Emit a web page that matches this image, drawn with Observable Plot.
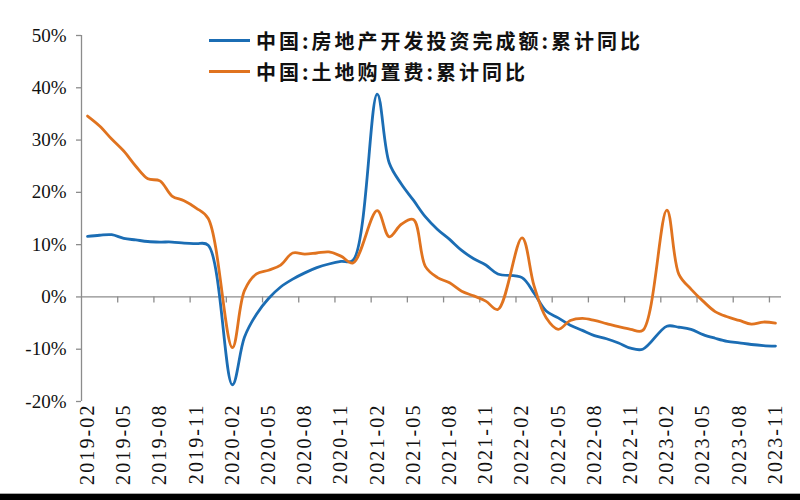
<!DOCTYPE html>
<html><head><meta charset="utf-8">
<script src="https://cdn.jsdelivr.net/npm/d3@7"></script>
<script src="https://cdn.jsdelivr.net/npm/@observablehq/plot@0.6"></script>
<style>
body{margin:0;background:#fff;width:800px;height:500px;overflow:hidden;position:relative}
#chart{position:absolute;left:0;top:0}
#legend{position:absolute;left:209px;top:25px}
.row{display:flex;align-items:center;height:31px;font-family:"Noto Sans CJK SC";font-weight:700;font-size:20px;letter-spacing:3px;color:#111;white-space:nowrap}
.sw{display:inline-block;width:41px;height:3px;margin-right:6px}
#bar{position:absolute;left:0;top:493px;width:800px;height:6px;background:#000;border-top:1px solid #aaa}
svg g[aria-label="x-axis tick label"] text{letter-spacing:2.1px}
</style></head>
<body>
<div id="chart"></div>
<div id="legend"></div>
<div id="bar"></div>
<script>
const months = [
 "2019-02","2019-03","2019-04","2019-05","2019-06","2019-07","2019-08","2019-09","2019-10","2019-11","2019-12",
 "2020-01","2020-02","2020-03","2020-04","2020-05","2020-06","2020-07","2020-08","2020-09","2020-10","2020-11","2020-12",
 "2021-01","2021-02","2021-03","2021-04","2021-05","2021-06","2021-07","2021-08","2021-09","2021-10","2021-11","2021-12",
 "2022-01","2022-02","2022-03","2022-04","2022-05","2022-06","2022-07","2022-08","2022-09","2022-10","2022-11","2022-12",
 "2023-01","2023-02","2023-03","2023-04","2023-05","2023-06","2023-07","2023-08","2023-09","2023-10","2023-11"
];
// 中国:房地产开发投资完成额:累计同比 (%), January not published
const investment = [
 11.6,11.8,11.9,11.2,10.9,10.6,10.5,10.5,10.3,10.2,9.9,
 null,-16.8,-7.7,-3.3,-0.3,1.9,3.4,4.6,5.6,6.3,6.8,7.0,
 null,38.8,25.6,21.6,18.5,15.3,12.9,11.0,8.9,7.3,6.1,4.4,
 null,3.7,0.7,-2.7,-4.0,-5.4,-6.4,-7.4,-8.0,-8.8,-9.8,-10.0,
 null,-5.6,-5.8,-6.2,-7.2,-7.9,-8.5,-8.8,-9.1,-9.3,-9.4
];
// 中国:土地购置费:累计同比 (%)
const landCost = [
 34.6,32.7,30.2,27.9,25.0,22.6,22.2,19.3,18.4,17.0,15.0,
 null,-9.7,1.2,4.4,5.1,6.1,8.4,8.2,8.4,8.6,7.8,6.5,
 null,16.5,11.5,13.9,14.8,5.8,3.7,2.7,1.1,0.2,-0.8,-2.4,
 null,11.3,2.1,-4.0,-6.2,-4.5,-4.1,-4.5,-5.1,-5.7,-6.2,-6.4,
 null,16.6,4.3,1.5,-0.8,-2.8,-3.8,-4.5,-5.2,-4.8,-5.0
];
const seriesNames = ["中国:房地产开发投资完成额:累计同比","中国:土地购置费:累计同比"];
const colors = ["#1b6db4","#e0731f"];
const yTicks = [-20,-10,0,10,20,30,40,50];
const labelIdx = months.map((m,i)=>i).filter(i=>i%3===0);
const boundaries = labelIdx.slice(1).map(i=>i-0.5);

const data = [];
months.forEach((m,i)=>{
  if (investment[i] != null) data.push({i, month:m, value:investment[i], series:seriesNames[0]});
  if (landCost[i] != null) data.push({i, month:m, value:landCost[i], series:seriesNames[1]});
});
const axisColor = "#8c8c8c";
const chart = Plot.plot({
  width:800, height:493,
  marginLeft:81, marginRight:19, marginTop:35, marginBottom:92,
  style:{fontFamily:"Liberation Serif", background:"#fff"},
  x:{domain:[-0.5, months.length-0.5], label:null},
  y:{domain:[-20,50], label:null},
  color:{domain:seriesNames, range:colors},
  marks:[
    Plot.ruleX([-0.5],{y1:-20,y2:50,stroke:axisColor,strokeWidth:1.3}),
    Plot.ruleY([0],{stroke:axisColor,strokeWidth:1.3}),
    Plot.ruleX(boundaries,{y1:0,y2:-1.15,stroke:axisColor,strokeWidth:1.3}),
    Plot.axisY({ticks:yTicks, tickFormat:d=>d+"%", tickSize:5, tickPadding:10, fontSize:19, color:"#111", stroke:axisColor, strokeWidth:1.3, label:null}),
    Plot.axisX({ticks:labelIdx, tickFormat:i=>months[i], tickRotate:-90, tickSize:0, tickPadding:2, fontSize:20, color:"#111", label:null}),
    Plot.line(data,{x:"i", y:"value", z:"series", stroke:"series", strokeWidth:2.8, curve:"catmull-rom"})
  ]
});
document.getElementById("chart").appendChild(chart);
const lg = document.getElementById("legend");
seriesNames.forEach((n,k)=>{
  const r = document.createElement("div"); r.className="row";
  r.innerHTML = `<span class="sw" style="background:${colors[k]}"></span><span>${n}</span>`;
  lg.appendChild(r);
});
</script>
</body></html>
